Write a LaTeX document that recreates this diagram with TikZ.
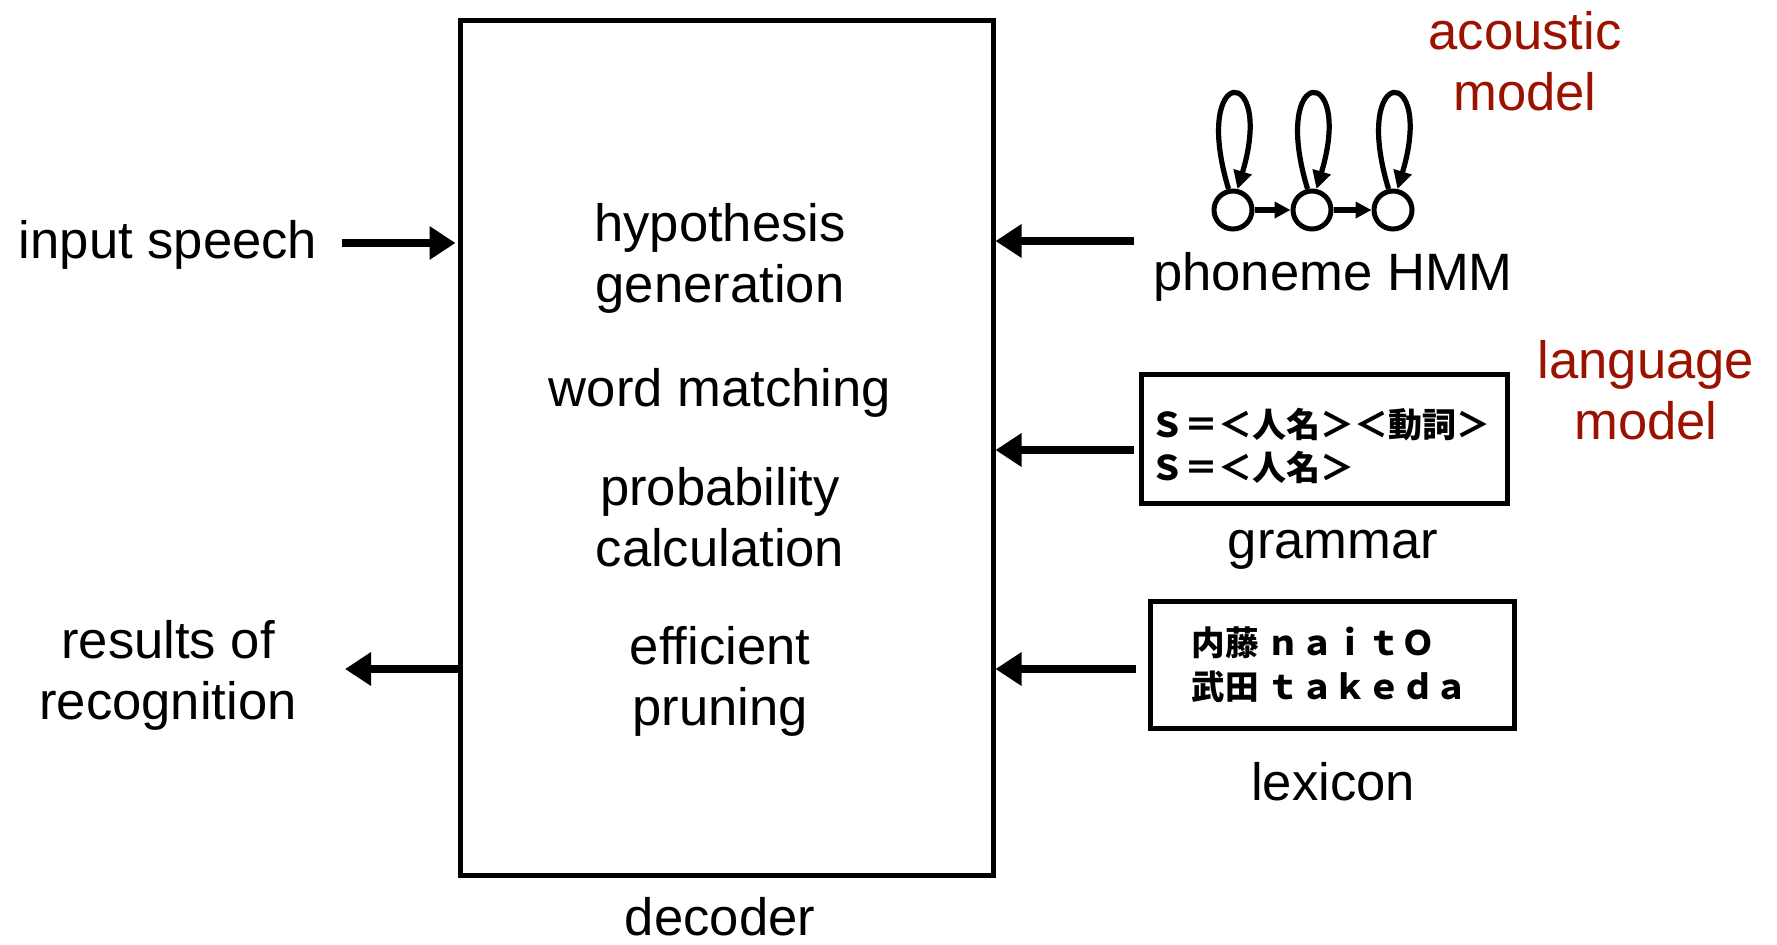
\documentclass[tikz,border=0pt]{standalone}
\usepackage{fontspec}
\setmainfont{Liberation Sans}
\newfontfamily\cjk{Noto Sans CJK JP}
\usetikzlibrary{arrows.meta}
\definecolor{modelred}{RGB}{155,18,0}

\begin{document}
\begin{tikzpicture}[x=0.5pt,y=-0.5pt,
  lbl/.style={font=\fontsize{26.3}{30.5}\selectfont, align=center, inner sep=0},
  redlbl/.style={lbl, text=modelred},
  frame/.style={draw, line width=2.5pt, inner sep=0},
  feed/.style={line width=4.2pt, -{Triangle[length=13pt,width=16pt]}},
  state/.style={circle, draw, line width=2.5pt, minimum size=19pt, inner sep=0},
  selfloop/.style={line width=2.6pt, -{Triangle[length=9pt,width=9pt]}},
  trans/.style={line width=2.6pt, -{Triangle[length=8pt,width=8pt]}},
  cjkline/.style={font=\cjk\bfseries\fontsize{17}{20}\selectfont, inner sep=0, anchor=west},
  lexline/.style={font=\cjk\bfseries\fontsize{16.8}{20}\selectfont, inner sep=0, anchor=west},
]
\useasboundingbox (0,0) rectangle (1777,944);

% decoder block and its inner steps
\node[frame, minimum width=266.5pt, minimum height=427.5pt] (dec) at (726.5,447.5) {};
\node[lbl] (t1) at (720,258) {hypothesis\\generation};
\node[lbl] (t2) at (720,393) {word matching};
\node[lbl] (t3) at (720,517) {probability\\calculation};
\node[lbl] (t4) at (720,681) {efficient\\pruning};
\node[lbl] (declbl) at (720,917) {decoder};

% input and output
\node[lbl] (inlbl) at (168,245) {input speech};
\node[lbl] (outlbl) at (168,675) {results of\\recognition};
\coordinate (inS) at (342,243);
\coordinate (outE) at (345,669);
\draw[feed, shorten >=1pt] (inS) -- (inS -| dec.west);
\draw[feed] (outE -| dec.west) -- (outE);

% acoustic model: three-state phoneme HMM
\node[state] (s1) at (1233,210) {};
\node[state] (s2) at (1312,210) {};
\node[state] (s3) at (1393,210) {};
\draw[trans] (s1) -- (s2);
\draw[trans] (s2) -- (s3);
\foreach \s in {s1,s2,s3}
  \draw[selfloop] (\s.102) .. controls +(-38,-126) and +(38,-126) .. (\s.78);
\node[lbl] (hmmlbl) at (1333,277) {phoneme HMM};
\node[redlbl] (aclbl) at (1525,61) {acoustic\\model};

% language model: grammar and lexicon
\node[frame, minimum width=183pt, minimum height=64.5pt] (gram) at (1324,438.5) {};
\node[cjkline] (g1) at (1150,425) {Ｓ＝＜人名＞＜動詞＞};
\node[cjkline] (g2) at (1150,467) {Ｓ＝＜人名＞};
\node[lbl] (gramlbl) at (1333,550) {grammar};

\node[frame, minimum width=182pt, minimum height=63.5pt] (lex) at (1332,664.5) {};
\node[lexline] (x1) at (1191,643) {内藤\hspace{4pt}ｎａｉｔＯ};
\node[lexline] (x2) at (1191,687) {武田\hspace{4pt}ｔａｋｅｄａ};
\node[lbl] (lexlbl) at (1333,782) {lexicon};
\node[redlbl] (lmlbl) at (1646,390) {language\\model};

% knowledge sources feeding the decoder
\coordinate (hmmS) at (1134,241);
\coordinate (gramS) at (1134,450);
\coordinate (lexS) at (1136,669);
\draw[feed] (hmmS) -- (hmmS -| dec.east);
\draw[feed] (gramS) -- (gramS -| dec.east);
\draw[feed] (lexS) -- (lexS -| dec.east);
\end{tikzpicture}
\end{document}
